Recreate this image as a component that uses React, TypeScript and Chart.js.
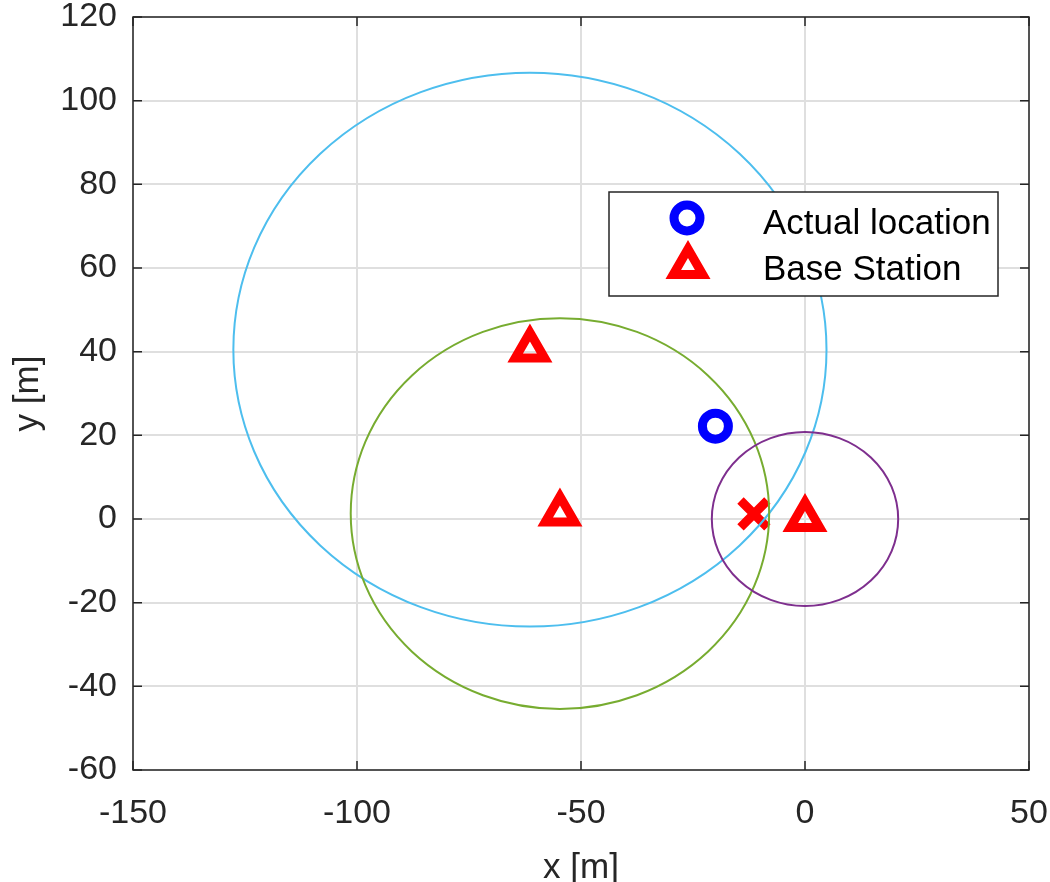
import React, { useEffect, useRef } from "react";
import { Chart, registerables } from "chart.js";

Chart.register(...registerables);

// ---- data ----
const xTickValues = [-150, -100, -50, 0, 50];
const yTickValues = [-60, -40, -20, 0, 20, 40, 60, 80, 100, 120];

const actualX = [-20];
const actualY = [22.2];

const baseStationX = [-61.4, -54.7, 0];
const baseStationY = [40.5, 1.3, 0];
const rangeRadius = [66.2, 46.7, 20.8];
const rangeColors = ["#4DBEEE", "#77AC30", "#7E2F8E"];

const estimateX = [-11.4];
const estimateY = [1.2];

const legendLabels = ["Actual location", "Base Station"];

const TEXT = "#262626";
const FONT = "'Liberation Sans', Arial, Helvetica, sans-serif";

const rangePlugin = {
  id: "rangeCircles",
  afterDatasetsDraw(chart: any) {
    const { ctx, chartArea, scales } = chart;
    const xs = scales.x;
    const ys = scales.y;
    ctx.save();
    ctx.beginPath();
    ctx.rect(chartArea.left, chartArea.top, chartArea.right - chartArea.left, chartArea.bottom - chartArea.top);
    ctx.clip();
    for (let i = 0; i < baseStationX.length; i++) {
      const cx = xs.getPixelForValue(baseStationX[i]);
      const cy = ys.getPixelForValue(baseStationY[i]);
      const rx = Math.abs(xs.getPixelForValue(baseStationX[i] + rangeRadius[i]) - cx);
      const ry = Math.abs(ys.getPixelForValue(baseStationY[i] + rangeRadius[i]) - cy);
      ctx.beginPath();
      ctx.ellipse(cx, cy, rx, ry, 0, 0, Math.PI * 2);
      ctx.strokeStyle = rangeColors[i];
      ctx.lineWidth = 2;
      ctx.stroke();
    }
    ctx.restore();
  },
};

const framePlugin = {
  id: "frameTicks",
  afterDraw(chart: any) {
    const { ctx, chartArea, scales } = chart;
    const { left, right, top, bottom } = chartArea;
    const xs = scales.x;
    const ys = scales.y;
    const tl = 9;
    ctx.save();
    ctx.strokeStyle = TEXT;
    ctx.lineWidth = 1.5;
    ctx.beginPath();
    for (const v of xTickValues) {
      const px = xs.getPixelForValue(v);
      ctx.moveTo(px, bottom);
      ctx.lineTo(px, bottom - tl);
      ctx.moveTo(px, top);
      ctx.lineTo(px, top + tl);
    }
    for (const v of yTickValues) {
      const py = ys.getPixelForValue(v);
      ctx.moveTo(left, py);
      ctx.lineTo(left + tl, py);
      ctx.moveTo(right, py);
      ctx.lineTo(right - tl, py);
    }
    ctx.stroke();
    ctx.strokeRect(left, top, right - left, bottom - top);

    // legend
    const bx = 609, by = 192, bw = 389, bh = 104;
    ctx.fillStyle = "#ffffff";
    ctx.fillRect(bx, by, bw, bh);
    ctx.strokeStyle = TEXT;
    ctx.lineWidth = 1.5;
    ctx.strokeRect(bx, by, bw, bh);

    // circle marker
    ctx.beginPath();
    ctx.arc(687, 218, 13, 0, Math.PI * 2);
    ctx.strokeStyle = "#0000FF";
    ctx.lineWidth = 9;
    ctx.stroke();

    // triangle marker
    const tx = 688, ty = 266, r = 17;
    ctx.beginPath();
    ctx.moveTo(tx, ty - r);
    ctx.lineTo(tx + r * Math.sin((2 * Math.PI) / 3), ty - r * Math.cos((2 * Math.PI) / 3));
    ctx.lineTo(tx + r * Math.sin((4 * Math.PI) / 3), ty - r * Math.cos((4 * Math.PI) / 3));
    ctx.closePath();
    ctx.strokeStyle = "#FF0000";
    ctx.lineWidth = 9;
    ctx.lineJoin = "miter";
    ctx.stroke();

    ctx.fillStyle = "#000000";
    ctx.font = `35px ${FONT}`;
    ctx.textAlign = "left";
    ctx.textBaseline = "alphabetic";
    ctx.fillText(legendLabels[0], 763, 234);
    ctx.fillText(legendLabels[1], 763, 280);
    ctx.restore();
  },
};

const zeroPadding = (scale: any) => {
  scale.paddingTop = 0;
  scale.paddingBottom = 0;
  scale.paddingLeft = 0;
  scale.paddingRight = 0;
  scale.getPadding = () => ({ left: 0, top: 0, right: 0, bottom: 0 });
};

export default function App() {
  const canvasRef = useRef<HTMLCanvasElement | null>(null);

  useEffect(() => {
    if (!canvasRef.current) return;
    const chart = new Chart(canvasRef.current, {
      type: "scatter",
      data: {
        datasets: [
          {
            label: "Estimate",
            data: estimateX.map((x, i) => ({ x, y: estimateY[i] })),
            pointStyle: "crossRot",
            pointRadius: 19,
            pointBorderWidth: 9,
            borderColor: "#FF0000",
            backgroundColor: "#FF0000",
          },
          {
            label: legendLabels[0],
            data: actualX.map((x, i) => ({ x, y: actualY[i] })),
            pointStyle: "circle",
            pointRadius: 13,
            pointBorderWidth: 9,
            borderColor: "#0000FF",
            backgroundColor: "rgba(0,0,0,0)",
          },
          {
            label: legendLabels[1],
            data: baseStationX.map((x, i) => ({ x, y: baseStationY[i] })),
            pointStyle: "triangle",
            pointRadius: 17,
            pointBorderWidth: 9,
            borderColor: "#FF0000",
            backgroundColor: "rgba(0,0,0,0)",
          },
        ],
      },
      options: {
        animation: false,
        responsive: true,
        maintainAspectRatio: false,
        events: [],
        layout: { autoPadding: false, padding: { top: 17, right: 21, left: 0, bottom: 0 } },
        plugins: {
          legend: { display: false },
          tooltip: { enabled: false },
        },
        scales: {
          x: {
            type: "linear",
            min: -150,
            max: 50,
            afterBuildTicks: (scale: any) => {
              scale.ticks = xTickValues.map((v) => ({ value: v }));
            },
            afterFit: (scale: any) => {
              scale.height = 112;
              zeroPadding(scale);
            },
            ticks: {
              color: TEXT,
              font: { family: FONT, size: 34, lineHeight: 1 },
              padding: 27,
              maxRotation: 0,
              autoSkip: false,
            },
            grid: { color: "#dfdfdf", lineWidth: 2, drawTicks: false },
            border: { display: false },
            title: {
              display: true,
              text: "x [m]",
              color: TEXT,
              font: { family: FONT, size: 35, lineHeight: 0.8 },
              padding: { top: 0, bottom: 0 },
            },
          },
          y: {
            type: "linear",
            min: -60,
            max: 120,
            afterBuildTicks: (scale: any) => {
              scale.ticks = yTickValues.map((v) => ({ value: v }));
            },
            afterFit: (scale: any) => {
              scale.width = 133;
              zeroPadding(scale);
            },
            ticks: {
              color: TEXT,
              font: { family: FONT, size: 34, lineHeight: 1 },
              padding: 16,
              autoSkip: false,
            },
            grid: { color: "#dfdfdf", lineWidth: 2, drawTicks: false },
            border: { display: false },
            title: {
              display: true,
              text: "y [m]",
              color: TEXT,
              font: { family: FONT, size: 35, lineHeight: 0.8 },
              padding: { top: 14, bottom: 0 },
            },
          },
        },
      },
      plugins: [rangePlugin, framePlugin],
    });
    return () => chart.destroy();
  }, []);

  return (
    <div style={{ position: "fixed", left: 0, top: 0, width: 1050, height: 882, background: "#ffffff" }}>
      <canvas ref={canvasRef} />
    </div>
  );
}
